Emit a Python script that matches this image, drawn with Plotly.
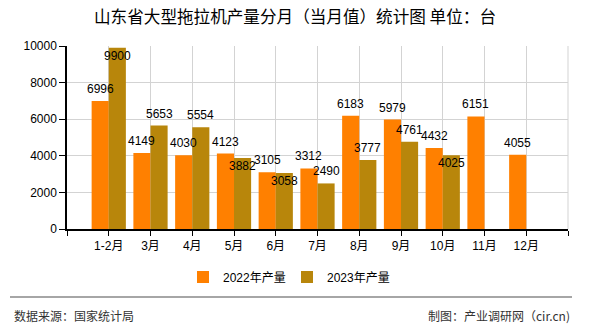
import plotly.graph_objects as go

categories = ["1-2月", "3月", "4月", "5月", "6月", "7月", "8月", "9月", "10月", "11月", "12月"]
prod_2022 = [6996, 4149, 4030, 4123, 3105, 3312, 6183, 5979, 4432, 6151, 4055]
prod_2023 = [9900, 5653, 5554, 3882, 3058, 2490, 3777, 4761, 4025, None, None]
y_ticks = [0, 2000, 4000, 6000, 8000, 10000]

# label placement for the 2023 series (True = drawn just inside the bar top)
inside_2023 = [True, False, False, True, True, False, False, False, True, False, False]

W, H = 590, 330
L, R, T, B = 67, 22, 46, 101
plot_w = W - L - R
plot_h = H - T - B
BARGAP = 0.18
n = len(categories)
xs = list(range(n))
slot_px = plot_w / (n + 1)
half_bar_px = (1 - BARGAP) / 4 * slot_px

FONT = "Liberation Sans, Noto Sans CJK SC, sans-serif"
C22 = "#ff8000"
C23 = "#b8860b"

fig = go.Figure()
fig.add_trace(go.Bar(name="2022年产量", x=xs, y=prod_2022, marker=dict(color=C22, line=dict(width=0))))
fig.add_trace(go.Bar(name="2023年产量", x=xs, y=prod_2023, marker=dict(color=C23, line=dict(width=0))))

ann = []
for i, v in enumerate(prod_2022):
    if v is not None:
        ann.append(dict(x=xs[i], y=v, xref="x", yref="y", text=str(v), showarrow=False,
                        xshift=-half_bar_px, yshift=12, yanchor="middle",
                        font=dict(size=12, color="#000", family=FONT)))
for i, v in enumerate(prod_2023):
    if v is not None:
        ann.append(dict(x=xs[i], y=v, xref="x", yref="y", text=str(v), showarrow=False,
                        xshift=half_bar_px, yshift=-8 if inside_2023[i] else 12, yanchor="middle",
                        font=dict(size=12, color="#000", family=FONT)))

def px2paper_x(px):
    return (px - L) / plot_w

def py2paper_y(py):
    return (H - B - py) / plot_h

ann.append(dict(x=px2paper_x(12), y=py2paper_y(315), xref="paper", yref="paper", text="数据来源：国家统计局",
                showarrow=False, xanchor="left", yanchor="middle",
                font=dict(size=12, color="#333", family="Noto Sans CJK SC")))
ann.append(dict(x=px2paper_x(572), y=py2paper_y(315), xref="paper", yref="paper", text="制图：产业调研网（cir.cn)",
                showarrow=False, xanchor="right", yanchor="middle",
                font=dict(size=12, color="#333", family="Noto Sans CJK SC")))

shapes = [dict(type="line", xref="paper", yref="paper", x0=px2paper_x(10), x1=px2paper_x(572),
               y0=py2paper_y(297), y1=py2paper_y(297), line=dict(color="#888", width=1.5)),
          dict(type="line", xref="paper", yref="paper", x0=1, x1=1, y0=0, y1=1,
               line=dict(color="#d3d3d3", width=1), layer="below")]

fig.update_layout(
    width=W, height=H,
    margin=dict(l=L, r=R, t=T, b=B, pad=0, autoexpand=False),
    paper_bgcolor="white", plot_bgcolor="white",
    barmode="group", bargap=BARGAP, bargroupgap=0,
    font=dict(family=FONT, size=12, color="#000"),
    title=dict(text="山东省大型拖拉机产量分月（当月值）统计图 单位：台", x=0.5, xref="container", xanchor="center",
               y=1 - 17 / H, yref="container", yanchor="middle",
               font=dict(size=16.6, color="#000", family="Noto Sans CJK SC")),
    legend=dict(orientation="h", x=px2paper_x(183), xref="paper", xanchor="left",
                y=py2paper_y(277), yanchor="middle", font=dict(size=12, color="#000", family=FONT),
                traceorder="normal", itemsizing="constant", itemwidth=30,
                entrywidth=59, entrywidthmode="pixels"),
    annotations=ann,
    shapes=shapes,
)
fig.update_xaxes(
    range=[-1, n], tickmode="array", tickvals=list(range(-1, n + 1)),
    ticktext=[""] + categories + [""], tickangle=0,
    showgrid=True, gridcolor="#d3d3d3", gridwidth=1,
    showline=True, linecolor="#000", linewidth=1.5,
    ticks="outside", ticklen=5, tickcolor="#000", zeroline=False,
    tickfont=dict(size=12, color="#000", family=FONT),
)
fig.update_yaxes(
    range=[0, 10000], tickmode="array", tickvals=y_ticks, tickformat="d",
    showgrid=True, gridcolor="#d3d3d3", gridwidth=1,
    showline=True, linecolor="#000", linewidth=1.5,
    ticks="outside", ticklen=6, tickcolor="#000", zeroline=False,
    tickfont=dict(size=12, color="#000", family=FONT),
)
fig.write_html("out.html")
